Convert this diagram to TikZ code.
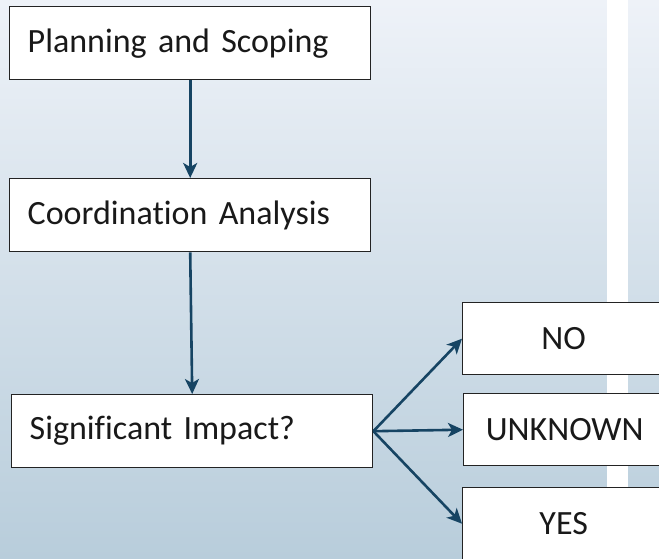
\documentclass[tikz,border=0pt]{standalone}
\usepackage{fontspec}
\setmainfont{Carlito}[Ligatures=NoCommon]
\usetikzlibrary{arrows.meta}
\definecolor{bgtop}{RGB}{238,242,248}
\definecolor{bgbot}{RGB}{184,205,219}
\definecolor{arrowc}{RGB}{22,68,99}
\definecolor{boxline}{RGB}{35,35,35}
\definecolor{txt}{RGB}{25,25,25}
\newcommand{\boxfont}{\fontsize{34}{40}\selectfont\spaceskip=0.19em plus 0.05em minus 0.05em\relax}
\tikzset{
  lbox/.style={draw=boxline, line width=1.4pt, fill=white, anchor=north west,
    minimum width=361pt, minimum height=73pt, text width=325pt, inner xsep=18pt,
    align=left, text=txt, font=\boxfont},
  rbox/.style={draw=boxline, line width=1.4pt, fill=white, anchor=north west,
    minimum width=202pt, minimum height=72pt, inner xsep=0pt, text=txt,
    font=\boxfont},
  conn/.style={draw=arrowc, line width=2.6pt, -{Stealth[length=15pt,width=14pt,inset=4pt]}}
}
\begin{document}
\begin{tikzpicture}[x=1pt,y=-1pt]
\useasboundingbox (0,0) rectangle (659,559);
\clip (0,0) rectangle (659,559);
\shade[top color=bgtop, bottom color=bgbot] (0,0) rectangle (607,559);
\fill[white] (607,0) rectangle (628,559);
\shade[top color=bgtop, bottom color=bgbot] (628,0) rectangle (659,559);

\node[lbox] (plan) at (9,6) {Planning and Scoping};
\node[lbox] (coord) at (9,178) {Coordination Analysis};
\node[lbox] (sig) at (11,394) {Significant Impact?};
\node[rbox] (no) at (462,302) {NO};
\node[rbox] (unk) at (463,393) {UNKNOWN};
\node[rbox] (yes) at (462,487) {YES};

\draw[conn] (plan.south) -- (coord.north);
\draw[conn] (coord.south) -- (sig.north);
\draw[conn] (sig.east) -- (no.west);
\draw[conn] (sig.east) -- (unk.west);
\draw[conn] (sig.east) -- (yes.west);
\end{tikzpicture}
\end{document}
